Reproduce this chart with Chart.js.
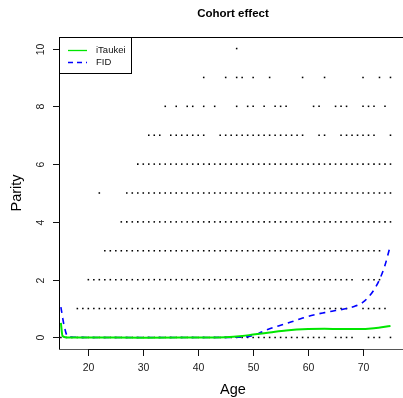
<!DOCTYPE html>
<html>
<head>
<meta charset="utf-8">
<script src="https://cdn.jsdelivr.net/npm/chart.js@4"></script>
<style>
  html, body { margin: 0; padding: 0; background: #fff; overflow: hidden; }
  #wrap { width: 403px; height: 398px; position: relative; }
</style>
</head>
<body>
<div id="wrap"><canvas id="cohortChart"></canvas></div>
<script>
// Observed (age, parity) cells, as runs of ages [from, to] per parity
const parity0Runs = [[15, 63], [65, 68], [71, 73], [75, 75]];
const parity1Runs = [[18, 67], [70, 74]];
const parity2Runs = [[20, 68], [70, 73]];
const parity3Runs = [[23, 73]];
const parity4Runs = [[26, 75]];
const parity5Runs = [[22, 22], [27, 75]];
const parity6Runs = [[29, 75]];
const parity7Runs = [[31, 33], [35, 41], [44, 59], [62, 63], [66, 72], [75, 75]];
const parity8Ages = [34, 36, 38, 39, 41, 43, 47, 49, 50, 52, 54, 55, 56, 61, 62, 65, 66, 67, 70, 71, 72, 74];
const parity9Ages = [41, 45, 47, 48, 50, 53, 59, 63, 70, 73, 75];
const parity10Ages = [47];

// Fitted curves
const iTaukeiAge = [15, 15.3, 16, 20, 30, 40, 45, 48, 50, 53, 56, 60, 63, 66, 69, 72, 75];
const iTaukeiFit = [0.5, 0.05, 0, 0, -0.01, 0, 0.01, 0.05, 0.1, 0.17, 0.24, 0.29, 0.3, 0.29, 0.29, 0.32, 0.4];
const fidAge = [15, 15.6, 16.3, 20, 30, 40, 48, 50, 51, 53, 55, 57, 59, 61, 63, 65, 67, 68.5, 70, 71, 72, 73, 74, 75];
const fidFit = [1.05, 0.4, 0.02, 0, 0, 0, 0.01, 0.07, 0.14, 0.3, 0.42, 0.54, 0.67, 0.78, 0.86, 0.93, 1.0, 1.08, 1.22, 1.4, 1.65, 2.0, 2.5, 3.2];

const xTicks = [20, 30, 40, 50, 60, 70];
const yTicks = [0, 2, 4, 6, 8, 10];

function expandRuns(runs) {
    const ages = [];
    runs.forEach(function(r) {
        for (let a = r[0]; a <= r[1]; a++) ages.push(a);
    });
    return ages;
}

const parityAges = [
    expandRuns(parity0Runs), expandRuns(parity1Runs), expandRuns(parity2Runs),
    expandRuns(parity3Runs), expandRuns(parity4Runs), expandRuns(parity5Runs),
    expandRuns(parity6Runs), expandRuns(parity7Runs), parity8Ages, parity9Ages, parity10Ages
];

const dots = [];
parityAges.forEach(function(ages, p) {
    ages.forEach(function(a) { dots.push({ x: a, y: p }); });
});

const FONT = '"Liberation Sans", Arial, Helvetica, sans-serif';

const frame = {
    id: 'frame',
    afterDatasetsDraw(chart) {
        const ctx = chart.ctx;
        const xs = chart.scales.x, ys = chart.scales.y;
        const a = chart.chartArea;
        ctx.save();

        // box (right side falls outside the picture)
        ctx.fillStyle = '#000';
        ctx.fillRect(59, 37, 344, 1);
        ctx.fillRect(59, 37, 1, 313);
        ctx.fillStyle = '#555';
        ctx.fillRect(59, 349, 344, 1);

        // x axis
        ctx.fillStyle = '#111';
        const x20 = Math.round(xs.getPixelForValue(xTicks[0]));
        const x70 = Math.round(xs.getPixelForValue(xTicks[xTicks.length - 1]));
        ctx.fillRect(x20, 349, x70 - x20 + 1, 1);
        ctx.font = '10.5px ' + FONT;
        ctx.textAlign = 'center';
        ctx.textBaseline = 'middle';
        xTicks.forEach(function(v) {
            const px = Math.round(xs.getPixelForValue(v));
            ctx.fillStyle = '#111';
            ctx.fillRect(px, 349, 1, 7);
            ctx.fillStyle = '#222';
            ctx.fillText(String(v), px + 0.5, 368);
        });

        // y axis
        yTicks.forEach(function(v) {
            const py = Math.round(ys.getPixelForValue(v));
            ctx.fillStyle = '#111';
            ctx.fillRect(53, py, 7, 1);
            ctx.save();
            ctx.translate(41.5, py + 0.5);
            ctx.rotate(-Math.PI / 2);
            ctx.fillStyle = '#222';
            ctx.fillText(String(v), 0, 0);
            ctx.restore();
        });

        // titles
        ctx.fillStyle = '#000';
        ctx.font = 'bold 11.5px ' + FONT;
        ctx.fillText('Cohort effect', 233, 14);
        ctx.font = '14.5px ' + FONT;
        ctx.fillText('Age', 233, 390);
        ctx.save();
        ctx.translate(17, 193);
        ctx.rotate(-Math.PI / 2);
        ctx.fillText('Parity', 0, 0);
        ctx.restore();

        // legend
        ctx.fillStyle = '#fff';
        ctx.fillRect(60, 38, 71, 35);
        ctx.fillStyle = '#000';
        ctx.fillRect(59, 37, 73, 1);
        ctx.fillRect(59, 37, 1, 37);
        ctx.fillRect(131, 37, 1, 37);
        ctx.fillRect(59, 73, 73, 1);
        ctx.lineWidth = 1.3;
        ctx.strokeStyle = '#00e600';
        ctx.beginPath(); ctx.moveTo(68, 50.5); ctx.lineTo(87, 50.5); ctx.stroke();
        ctx.strokeStyle = '#0000ff';
        ctx.setLineDash([5, 4]);
        ctx.beginPath(); ctx.moveTo(68, 62.5); ctx.lineTo(87, 62.5); ctx.stroke();
        ctx.setLineDash([]);
        ctx.fillStyle = '#111';
        ctx.font = '9.5px ' + FONT;
        ctx.textAlign = 'left';
        ctx.fillText('iTaukei', 96, 50.5);
        ctx.fillText('FID', 96, 62.5);
        ctx.restore();
    }
};

new Chart(document.getElementById('cohortChart'), {
    type: 'scatter',
    data: {
        datasets: [
            {
                label: 'iTaukei',
                data: iTaukeiAge.map(function(a, i) { return { x: a, y: iTaukeiFit[i] }; }),
                showLine: true,
                borderColor: '#00e600',
                borderWidth: 2,
                pointRadius: 0,
                cubicInterpolationMode: 'monotone'
            },
            {
                label: 'FID',
                data: fidAge.map(function(a, i) { return { x: a, y: fidFit[i] }; }),
                showLine: true,
                borderColor: '#0000ff',
                borderWidth: 1.6,
                borderDash: [6, 5],
                pointRadius: 0,
                cubicInterpolationMode: 'monotone'
            },
            {
                label: 'obs',
                data: dots,
                pointStyle: 'rect',
                pointRadius: 1.1,
                backgroundColor: '#000',
                borderWidth: 0
            }
        ]
    },
    options: {
        responsive: true,
        maintainAspectRatio: false,
        animation: false,
        events: [],
        layout: { padding: { left: 60, top: 37, right: 0, bottom: 49 } },
        scales: {
            x: { type: 'linear', display: false, min: 14.84, max: 76.55 },
            y: { type: 'linear', display: false, min: -0.4, max: 10.4 }
        },
        plugins: {
            legend: { display: false },
            tooltip: { enabled: false },
            title: { display: false }
        }
    },
    plugins: [frame]
});
</script>
</body>
</html>
